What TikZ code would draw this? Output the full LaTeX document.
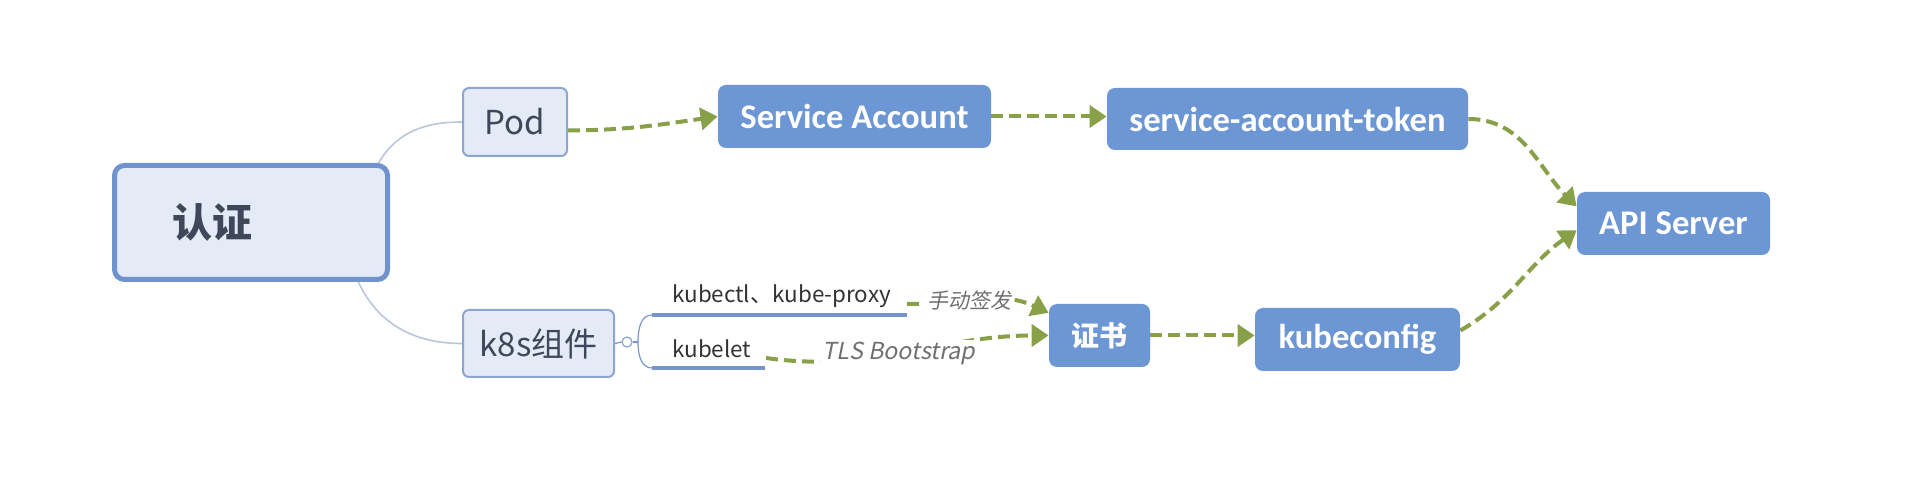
\documentclass[tikz,border=0pt]{standalone}
\usepackage{fontspec}
\setmainfont{Noto Sans CJK SC}
\newfontfamily\latinfont{Carlito}
\newfontfamily\slantfont[FakeSlant=0.2]{Noto Sans CJK SC}
\usetikzlibrary{arrows.meta}
\pgfdeclarelayer{backlayer}
\pgfdeclarelayer{edgelayer}
\pgfdeclarelayer{nodelayer}
\pgfsetlayers{backlayer,edgelayer,nodelayer,main}
\definecolor{boxblue}{RGB}{109,150,212}
\definecolor{rootfill}{RGB}{228,235,246}
\definecolor{rootline}{RGB}{112,146,205}
\definecolor{leafline}{RGB}{140,165,210}
\definecolor{twigline}{RGB}{120,148,202}
\definecolor{branchline}{RGB}{188,198,218}
\definecolor{flowgreen}{RGB}{136,160,72}
\definecolor{inktext}{RGB}{62,72,90}
\definecolor{notetext}{RGB}{112,112,112}
\tikzstyle{none} = [inner sep=0pt]
\tikzstyle{root} = [draw=rootline, line width=2.5pt, fill=rootfill, rounded corners=5pt, inner ysep=0pt, inner xsep=29pt, text width=78.5pt, minimum height=57pt, align=left, text=inktext, font=\fontsize{20pt}{22pt}\selectfont\bfseries]
\tikzstyle{leaf} = [draw=leafline, line width=1pt, fill=rootfill, rounded corners=3pt, inner sep=0pt, text=inktext, font=\fontsize{16.5pt}{18pt}\selectfont]
\tikzstyle{blk} = [fill=boxblue, rounded corners=4pt, inner sep=0pt, text=white, font=\latinfont\fontsize{17.3pt}{19pt}\selectfont\bfseries]
\tikzstyle{small} = [inner sep=0pt, text=black!80, font=\fontsize{11.2pt}{13pt}\selectfont]
\tikzstyle{note} = [fill=white, inner xsep=1.5pt, inner ysep=1pt, text=notetext]
\tikzstyle{knob} = [circle, draw=leafline, fill=white, line width=0.6pt, minimum size=5pt, inner sep=0pt]
\tikzstyle{branch} = [draw=branchline, line width=0.8pt]
\tikzstyle{twig} = [draw=twigline, line width=0.6pt]
\tikzstyle{underline} = [draw=twigline, line width=1.6pt]
\tikzstyle{flow} = [draw=flowgreen, line width=2pt, dash pattern=on 6pt off 3pt, -{Triangle[length=8.5pt, width=11pt]}]

\begin{document}
\begin{tikzpicture}[x=0.5pt, y=-0.5pt]
	\begin{pgfonlayer}{backlayer}
		\fill [white] (0, 0) rectangle (1908, 496);
	\end{pgfonlayer}
	\useasboundingbox (0, 0) rectangle (1908, 496);
	\begin{pgfonlayer}{nodelayer}
		\node [style=root] (auth) at (251, 222.5) {认证};
		\node [style=leaf, minimum width=52pt, minimum height=34pt] (pod) at (515, 122) {Pod};
		\node [style=leaf, minimum width=75.5pt, minimum height=33.5pt] (k8s) at (538.5, 343.5) {k8s组件};
		\node [style=blk, minimum width=136.5pt, minimum height=31.5pt] (sa) at (854.5, 116.5) {Service Account};
		\node [style=blk, minimum width=180.5pt, minimum height=31pt] (sat) at (1287.5, 119) {service-account-token};
		\node [style=blk, minimum width=96.5pt, minimum height=31.5pt] (api) at (1673.5, 223.5) {API Server};
		\node [style=blk, minimum width=50.5pt, minimum height=31.5pt, font=\fontsize{14pt}{16pt}\selectfont\bfseries] (cert) at (1099.5, 335.5) {证书};
		\node [style=blk, minimum width=102.5pt, minimum height=31.5pt] (kcfg) at (1357.5, 339.5) {kubeconfig};
		\node [style=small, anchor=west] (kubectl) at (672, 296) {kubectl、kube-proxy};
		\node [style=small, anchor=west] (kubelet) at (672, 349) {kubelet};
		\node [style=knob] (knob) at (627, 342) {};
		\coordinate (fork) at (638, 342);
		\coordinate (ctlL) at (652, 315);
		\coordinate (ctlR) at (907, 315);
		\coordinate (letL) at (652, 368);
		\coordinate (letR) at (765, 368);
		\coordinate (ctlEnd) at (907, 304);
		\coordinate (letEnd) at (766, 358);
	\end{pgfonlayer}
	\begin{pgfonlayer}{edgelayer}
		% mind map branches
		\draw [style=branch] (auth.25) to [out=60, in=180] (pod.west);
		\draw [style=branch] (auth.-29) to [out=-65, in=180] (k8s.west);
		\draw [style=twig] (k8s.east) to (knob.west);
		\draw [style=twig] (knob.east) to (fork);
		\draw [style=twig] (fork) to [out=90, in=180] (ctlL);
		\draw [style=twig] (fork) to [out=-90, in=180] (letL);
		\draw [style=underline] (ctlL) to (ctlR);
		\draw [style=underline] (letL) to (letR);
		% token path
		\draw [style=flow] (pod.-9) to [out=0, in=188] (sa.west);
		\draw [style=flow] (sa.east) to (sa.east -| sat.west);
		\draw [style=flow] (sat.east) to [out=0, in=135] (api.170);
		% certificate path
		\draw [style=flow] (ctlEnd) to [out=0, in=155] node [style=note, pos=0.42, font=\slantfont\fontsize{10.5pt}{12pt}\selectfont] {手动签发} (cert.156);
		\draw [style=flow] (letEnd) to [out=-8, in=180] node [style=note, pos=0.47, font=\slantfont\fontsize{11.7pt}{14pt}\selectfont] {TLS Bootstrap} (cert.west);
		\draw [style=flow] (cert.east) to (cert.east -| kcfg.west);
		\draw [style=flow] (kcfg.5) to [out=30, in=215] (api.184);
	\end{pgfonlayer}
\end{tikzpicture}
\end{document}
